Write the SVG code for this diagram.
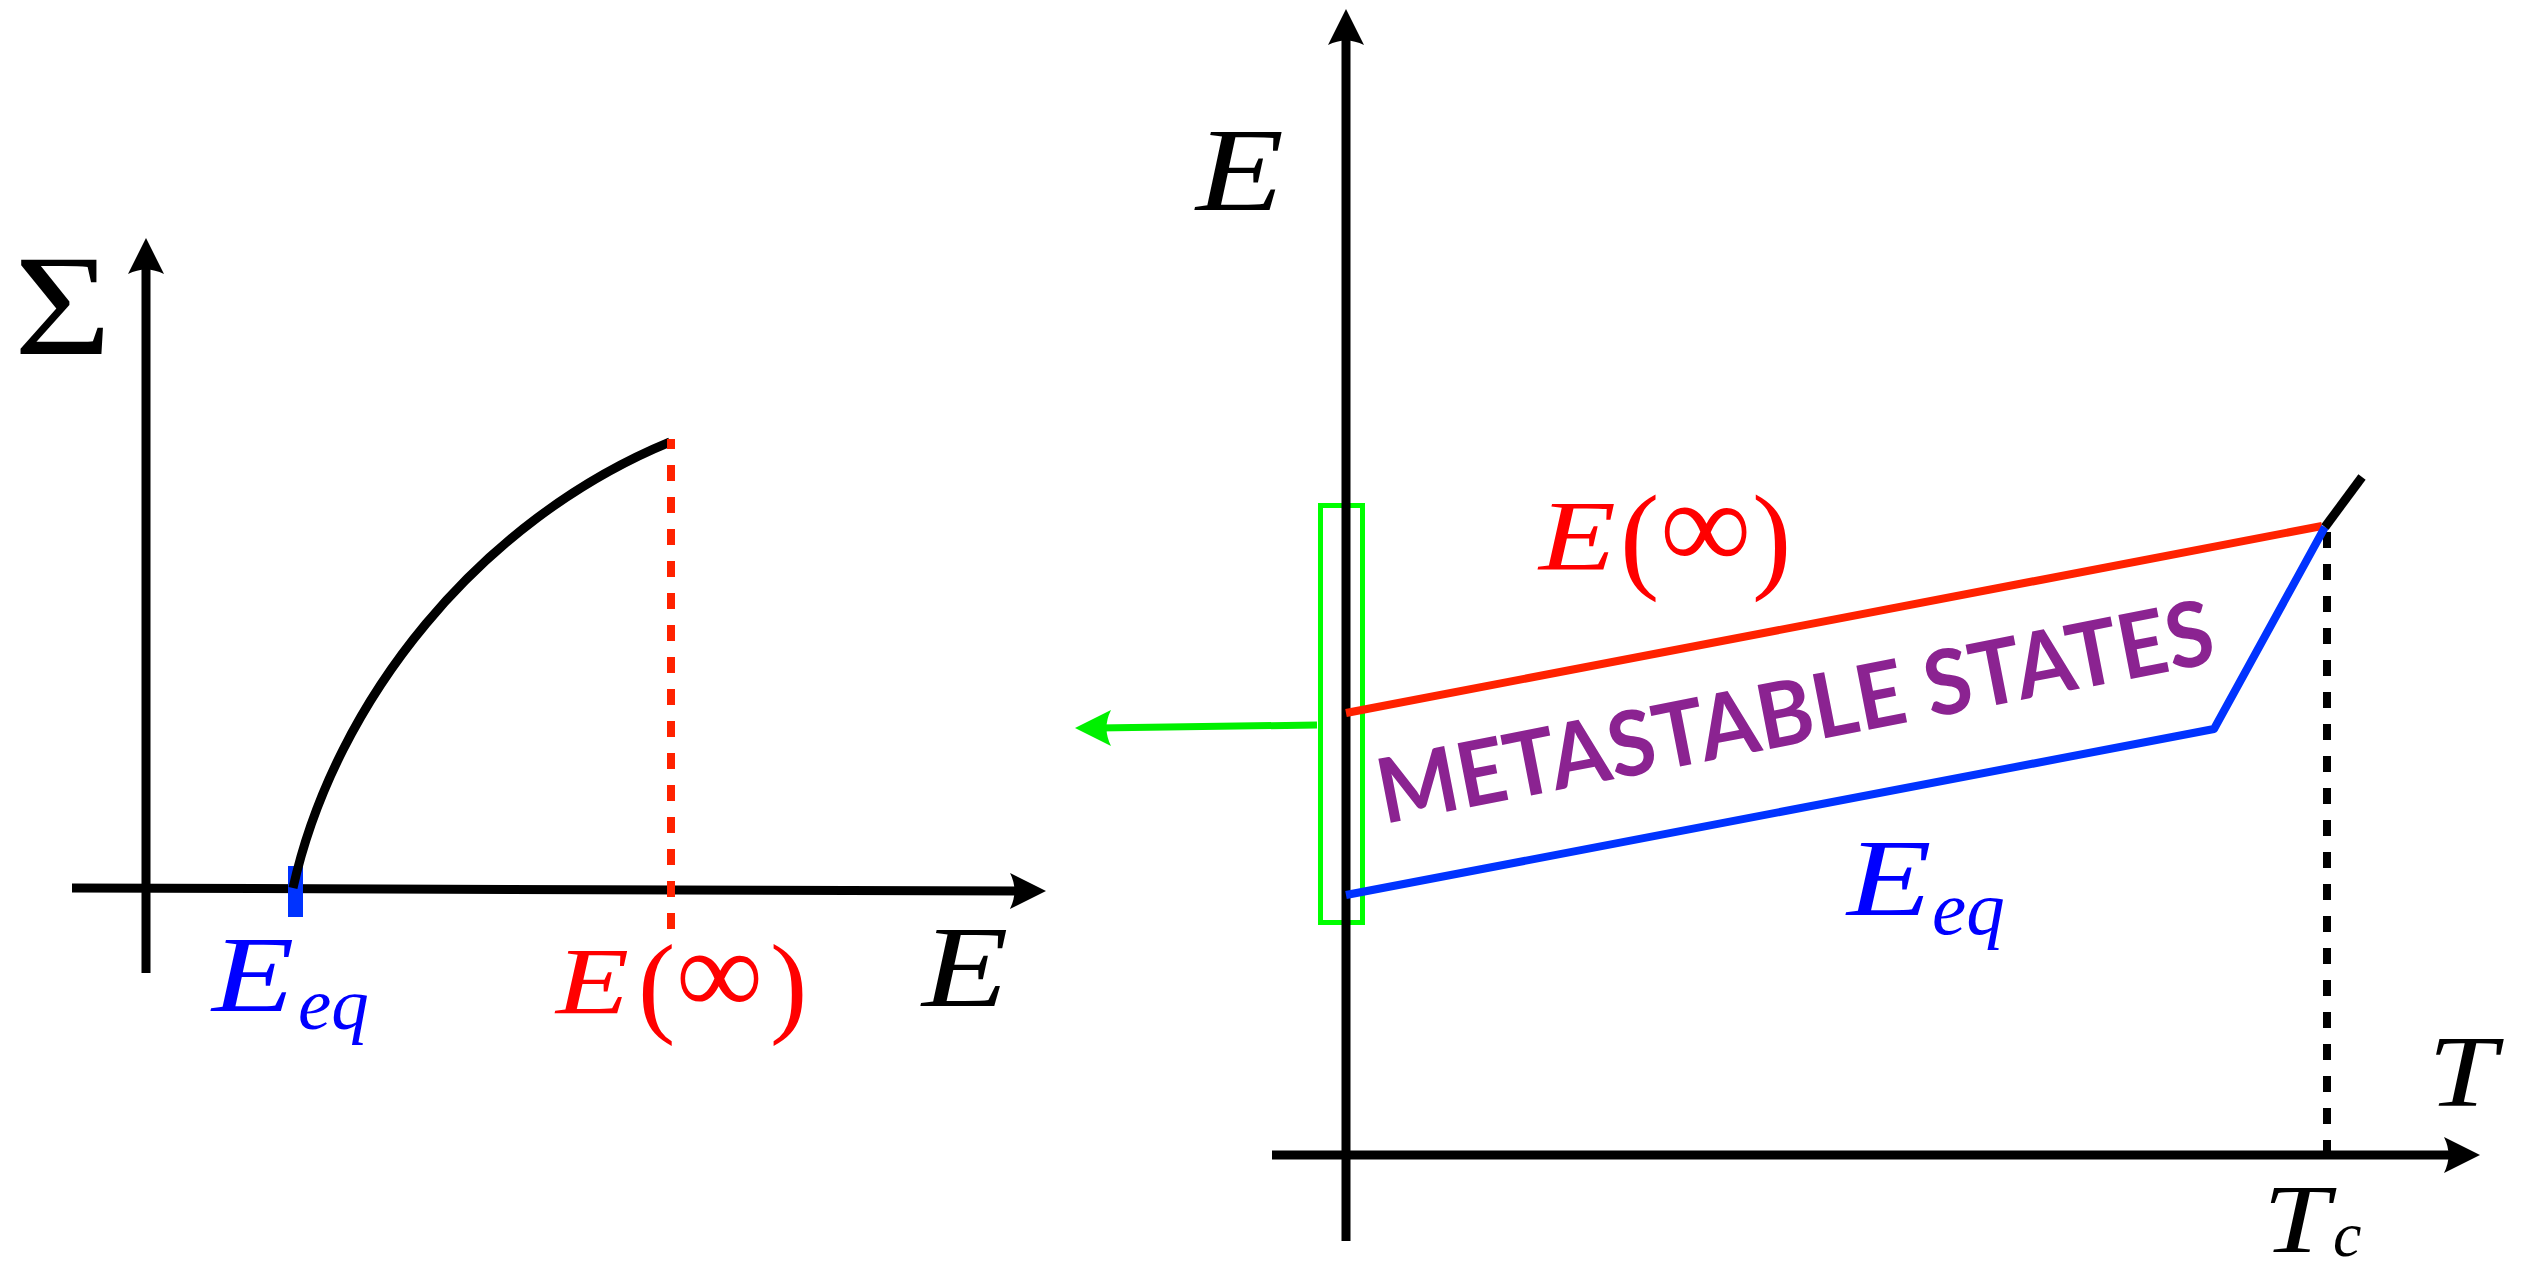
<svg xmlns="http://www.w3.org/2000/svg" xmlns:xlink="http://www.w3.org/1999/xlink" width="2528" height="1272" viewBox="0 0 2528 1272">
<style>
.ax{stroke:#000;stroke-width:9;fill:none}
.m{font-family:'Liberation Serif','Times New Roman',serif;font-style:italic}
.u{font-family:'Liberation Serif','Times New Roman',serif;font-style:normal}
.meta{font-family:Lato,'Open Sans',sans-serif;font-weight:bold;fill:#8B2391}
.red{fill:#FF0000}
.blue{fill:#0000FF}
.blk{fill:#000}
</style>
<defs>
<path id="ah" d="M0,0 L-36,-18 Q-27,0 -36,18 Z"/>
</defs>
<rect width="2528" height="1272" fill="#fff"/>
<g id="left-plot">
  <g id="left-axes">
    <line class="ax" x1="146" y1="973" x2="146" y2="262"/>
    <use xlink:href="#ah" transform="translate(146,238) rotate(-90)"/>
    <line class="ax" x1="72" y1="888" x2="1020" y2="891"/>
    <use xlink:href="#ah" transform="translate(1046,891) rotate(0.18)"/>
  </g>
  <rect id="eeq-tick" x="288" y="866" width="15" height="51" fill="#0033FF"/>
  <path id="sigma-curve" d="M293,888 C335,700 480,520 670,442" stroke="#000" stroke-width="9" fill="none"/>
  <line id="einf-dash" x1="671" y1="439" x2="671" y2="930" stroke="#FF2200" stroke-width="8" stroke-dasharray="16 16" stroke-dashoffset="6"/>
  <text class="u blk" font-size="143" transform="translate(14,354) scale(1.17,1)">Σ</text>
  <g id="left-eeq-label">
    <text class="m blue" font-size="107" transform="translate(212,1011) scale(1.26,1)">E</text>
    <text class="m blue" x="298" y="1029" font-size="75">eq</text>
  </g>
  <g id="left-einf-label">
    <text class="m red" font-size="95" transform="translate(556,1014) scale(1.26,1)">E</text>
    <text class="u red" x="638" y="1022" font-size="112">(</text>
    <text class="u red" x="676" y="1014" font-size="122">∞</text>
    <text class="u red" x="770" y="1022" font-size="112">)</text>
  </g>
  <text class="m blk" font-size="116" transform="translate(922,1006) scale(1.22,1)">E</text>
</g>
<g id="right-plot">
  <rect id="zoom-box" x="1320.5" y="505.5" width="42" height="417" fill="none" stroke="#00FF00" stroke-width="5"/>
  <g id="right-axes">
    <line class="ax" x1="1346" y1="1241" x2="1346" y2="33"/>
    <use xlink:href="#ah" transform="translate(1346,9) rotate(-90)"/>
    <line class="ax" x1="1272" y1="1155" x2="2455" y2="1155"/>
    <use xlink:href="#ah" transform="translate(2480,1155)"/>
  </g>
  <line id="tc-dash" x1="2327" y1="532" x2="2327" y2="1155" stroke="#000" stroke-width="8" stroke-dasharray="16 16"/>
  <line id="einf-line" x1="1346" y1="713" x2="2322" y2="526" stroke="#FF2200" stroke-width="8"/>
  <polyline id="eeq-line" points="1346,895 2214,729 2325,527" stroke="#0033FF" stroke-width="8" fill="none" stroke-linejoin="round"/>
  <line id="high-t-line" x1="2325" y1="527" x2="2362" y2="477" stroke="#000" stroke-width="9"/>
  <text class="m blk" font-size="118" transform="translate(1196,210) scale(1.22,1)">E</text>
  <g id="right-einf-label">
    <text class="m red" font-size="100" transform="translate(1539,569) scale(1.26,1)">E</text>
    <text class="u red" x="1620" y="577" font-size="118">(</text>
    <text class="u red" x="1660" y="569" font-size="128">∞</text>
    <text class="u red" x="1752" y="577" font-size="118">)</text>
  </g>
  <text id="metastable" class="meta" transform="translate(1384,824) rotate(-11)" x="0" y="0" font-size="90" textLength="850" lengthAdjust="spacingAndGlyphs">METASTABLE STATES</text>
  <g id="right-eeq-label">
    <text class="m blue" font-size="110" transform="translate(1847,915) scale(1.26,1)">E</text>
    <text class="m blue" x="1932" y="934" font-size="77">eq</text>
  </g>
  <text class="m blk" font-size="101" transform="translate(2428,1106) scale(1.22,1)">T</text>
  <g id="tc-label">
    <text class="m blk" font-size="98" transform="translate(2263,1252) scale(1.22,1)">T</text>
    <text class="m blk" x="2333" y="1256" font-size="64">c</text>
  </g>
</g>
<g id="connectors">
  <line x1="1317" y1="725" x2="1098" y2="728" stroke="#00F000" stroke-width="7"/>
  <use xlink:href="#ah" fill="#00F000" transform="translate(1075,728) rotate(180)"/>
</g>
</svg>
